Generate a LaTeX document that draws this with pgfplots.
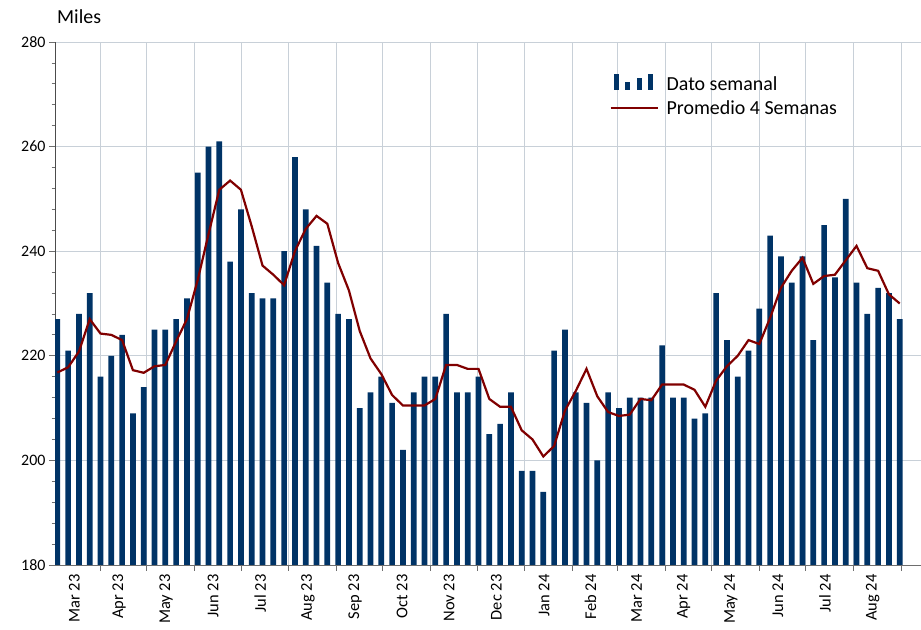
\documentclass[border=0pt]{standalone}
\usepackage{pgfplots}
\usepackage{pgfplotstable}
\pgfplotsset{compat=1.18}
\usepackage{fontspec}
\setmainfont{Carlito}
\definecolor{barcol}{RGB}{0,51,102}
\definecolor{macol}{RGB}{128,0,0}
\definecolor{gridcol}{RGB}{200,208,216}
\definecolor{axcol}{RGB}{110,110,110}

\pgfplotstableread{
day val ma
0 227 216.8
7 221 217.8
14 228 220.8
21 232 227
28 216 224.25
35 220 224
42 224 223
49 209 217.25
56 214 216.75
63 225 218
70 225 218.25
77 227 222.75
84 231 227
91 255 234.5
98 260 243.25
105 261 251.75
112 238 253.5
119 248 251.75
126 232 244.75
133 231 237.25
140 231 235.5
147 240 233.5
154 258 240
161 248 244.25
168 241 246.75
175 234 245.25
182 228 237.75
189 227 232.5
196 210 224.75
203 213 219.5
210 216 216.5
217 211 212.5
224 202 210.5
231 213 210.5
238 216 210.5
245 216 211.75
252 228 218.25
259 213 218.25
266 213 217.5
273 216 217.5
280 205 211.75
287 207 210.25
294 213 210.25
301 198 205.75
308 198 204
315 194 200.75
322 221 202.75
329 225 209.5
336 213 213.25
343 211 217.5
350 200 212.25
357 213 209.25
364 210 208.5
371 212 208.75
378 212 211.75
385 212 211.5
392 222 214.5
399 212 214.5
406 212 214.5
413 208 213.5
420 209 210.25
427 232 215.25
434 223 218
441 216 220
448 221 223
455 229 222.25
462 243 227.25
469 239 233
476 234 236.25
483 239 238.75
490 223 233.75
497 245 235.25
504 235 235.5
511 250 238.25
518 234 241
525 228 236.75
532 233 236.25
539 232 231.75
546 227 230
}\data

\begin{document}
\begin{tikzpicture}
\useasboundingbox (0,0) rectangle (921bp,630bp);
\begin{axis}[
  at={(55bp,65bp)}, anchor=south west,
  scale only axis, width=866bp, height=523bp,
  xmin=-1.5, xmax=559.8, ymin=180, ymax=280,
  axis x line*=bottom, axis y line*=left,
  x axis line style={draw=axcol, line width=0.9bp, -},
  y axis line style={draw=black!70, line width=0.9bp, -},
  tick align=outside,
  major tick length=6bp, minor tick length=3.5bp,
  tick style={draw=axcol, line width=0.8bp},
  ytick={180,200,...,280}, minor y tick num=4,
  ymajorgrids, xmajorgrids,
  grid style={draw=gridcol, line width=0.8bp},
  xtick={28,58,89,119,150,181,211,242,272,303,334,363,394,424,455,485,516,547},
  xticklabels={},
  extra x ticks={11,40,70.5,101,131.5,162.5,193,223.5,254,284.5,315.5,345.5,375.5,406,436.5,467,497.5,528.5},
  extra x tick labels={Mar 23,Apr 23,May 23,Jun 23,Jul 23,Aug 23,Sep 23,Oct 23,Nov 23,Dec 23,Jan 24,Feb 24,Mar 24,Apr 24,May 24,Jun 24,Jul 24,Aug 24},
  extra x tick style={grid=none, tick style={draw=none}},
  xticklabel style={rotate=90, anchor=east, font=\fontsize{16.5pt}{19pt}\selectfont},
  yticklabel style={font=\fontsize{16pt}{19pt}\selectfont},
  /pgf/number format/assume math mode=true,
  legend style={at={(0.64,0.94)}, anchor=north west, draw=none, fill=none,
    inner sep=0pt, font=\fontsize{20pt}{24pt}\selectfont, row sep=4pt, column sep=6bp},
  legend cell align=left,
]
\addplot[ybar, bar width=3.7, fill=barcol, draw=none,
  legend image code/.code={
    \fill[barcol] (0bp,-5bp) rectangle (5bp,11bp);
    \fill[barcol] (11.5bp,-5bp) rectangle (16.5bp,3bp);
    \fill[barcol] (23bp,-5bp) rectangle (28bp,7bp);
    \fill[barcol] (34.5bp,-5bp) rectangle (39.5bp,11bp);
  }] table[x=day,y=val]{\data};
\addlegendentry{Dato semanal}
\addplot[macol, line width=2.2bp, mark=none,
  legend image code/.code={
    \draw[macol, line width=2.2bp] (-3bp,0bp) -- (44bp,0bp);
  }] table[x=day,y=ma]{\data};
\addlegendentry{Promedio 4 Semanas}
\end{axis}
\node[anchor=base west, inner sep=0pt, font=\fontsize{20pt}{24pt}\selectfont] at (57bp,606bp) {Miles};
\end{tikzpicture}
\end{document}
